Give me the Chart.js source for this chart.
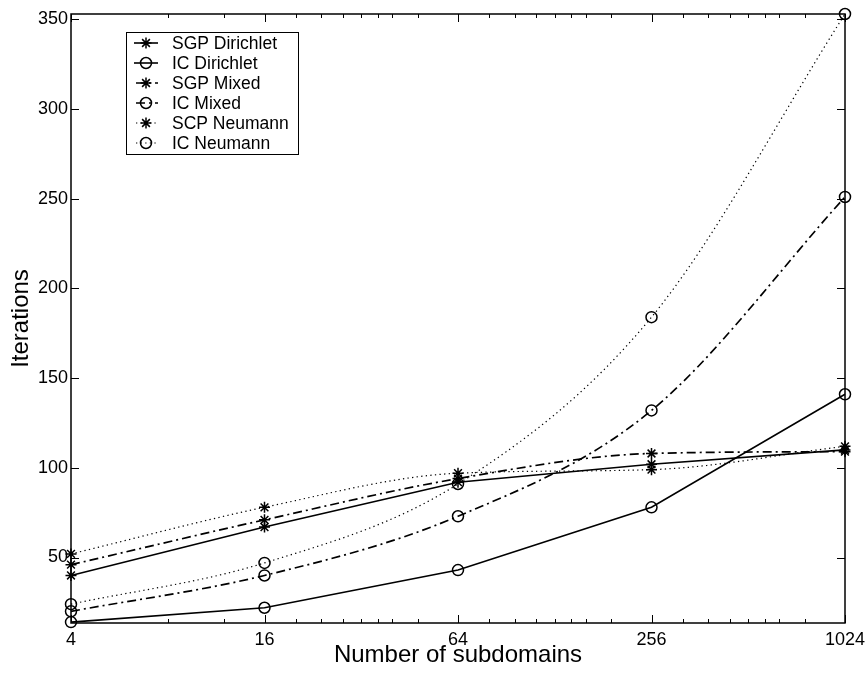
<!DOCTYPE html>
<html><head><meta charset="utf-8">
<script src="https://cdn.jsdelivr.net/npm/chart.js@4/dist/chart.umd.min.js"></script>
<style>html,body{margin:0;padding:0;background:#fff}#wrap{width:866px;height:675px}</style>
</head><body><div id="wrap"><canvas id="c" width="866" height="675"></canvas></div>
<script>
const subdomains = [4, 16, 64, 256, 1024];
const sgpDirichlet = [40, 67, 92, 102, 110];
const icDirichlet = [14, 22, 43, 78, 141];
const sgpMixed = [46, 71, 94, 108, 109];
const icMixed = [20, 40, 73, 132, 251];
const scpNeumann = [52, 78, 97, 99, 112];
const icNeumann = [24, 47, 91, 184, 353];
const seriesLabels = ['SGP Dirichlet', 'IC Dirichlet', 'SGP Mixed', 'IC Mixed', 'SCP Neumann', 'IC Neumann'];
const xMajorTicks = [4, 16, 64, 256, 1024];
const xMinorTicks = [8, 12, 20, 24, 28, 32, 36, 40, 48, 80, 96, 112, 128, 144, 160, 192, 320, 384, 448, 512, 576, 640, 768];
const yTicks = [50, 100, 150, 200, 250, 300, 350];

const FONT = '"Liberation Sans", Arial, Helvetica, sans-serif';
const SOLID = [], DASHDOT = [9, 4, 2, 4], DOTTED = [1.3, 3.3];

function pts(vals) { return subdomains.map((x, i) => ({ x: x, y: vals[i] })); }
function ds(label, vals, dash, style, width, curved) {
  return {
    label: label, data: pts(vals), borderColor: '#000', borderWidth: width, borderDash: dash,
    pointStyle: style, pointRadius: 5.5, pointBorderWidth: 1.5,
    pointBorderColor: '#000', pointBackgroundColor: 'rgba(0,0,0,0)', fill: false,
    tension: 0, cubicInterpolationMode: curved ? 'monotone' : 'default', clip: false
  };
}

const frameTicks = {
  id: 'frameTicks',
  beforeDatasetsDraw(chart) {
    const ctx = chart.ctx, a = chart.chartArea, xs = chart.scales.x, ys = chart.scales.y;
    ctx.save();
    ctx.strokeStyle = '#000'; ctx.lineWidth = 1.5;
    ctx.strokeRect(a.left, a.top, a.right - a.left, a.bottom - a.top);
    ctx.lineWidth = 1;
    ctx.beginPath();
    const xt = (v, len) => { const p = Math.round(xs.getPixelForValue(v)) + 0.5;
      ctx.moveTo(p, a.bottom); ctx.lineTo(p, a.bottom - len); ctx.moveTo(p, a.top); ctx.lineTo(p, a.top + len); };
    xMajorTicks.forEach(v => xt(v, 8));
    xMinorTicks.forEach(v => xt(v, 4));
    yTicks.forEach(v => { const p = Math.round(ys.getPixelForValue(v)) + 0.5;
      ctx.moveTo(a.left, p); ctx.lineTo(a.left + 8, p); ctx.moveTo(a.right, p); ctx.lineTo(a.right - 8, p); });
    ctx.stroke();
    ctx.restore();
  }
};

const legendBox = {
  id: 'legendBox',
  afterDatasetsDraw(chart) {
    const ctx = chart.ctx, a = chart.chartArea;
    const x0 = a.left + 55, y0 = a.top + 18, w = 172, h = 122, rowH = 20;
    ctx.save();
    ctx.fillStyle = '#fff'; ctx.fillRect(x0, y0, w, h);
    ctx.strokeStyle = '#000'; ctx.lineWidth = 1; ctx.strokeRect(x0 + 0.5, y0 + 0.5, w, h);
    chart.data.datasets.forEach((d, i) => {
      const cy = y0 + 11 + i * rowH;
      ctx.strokeStyle = '#000';
      ctx.setLineDash(d.borderDash || []); ctx.lineWidth = d.borderWidth;
      ctx.lineDashOffset = d.borderDash && d.borderDash.length ? -2 : 0;
      ctx.beginPath(); ctx.moveTo(x0 + 8, cy); ctx.lineTo(x0 + 32, cy); ctx.stroke();
      ctx.setLineDash([]);
      ctx.lineWidth = d.pointBorderWidth;
      ctx.fillStyle = 'rgba(0,0,0,0)';
      Chart.helpers.drawPoint(ctx, { pointStyle: d.pointStyle, radius: d.pointRadius, rotation: 0, borderWidth: d.pointBorderWidth }, x0 + 20, cy);
      ctx.fillStyle = '#000'; ctx.font = '17.5px ' + FONT; ctx.textBaseline = 'middle'; ctx.textAlign = 'left';
      ctx.fillText(d.label, x0 + 46, cy + 1);
    });
    ctx.restore();
  }
};

new Chart(document.getElementById('c'), {
  type: 'line',
  data: {
    datasets: [
      ds(seriesLabels[0], sgpDirichlet, SOLID, 'star', 1.6, false),
      ds(seriesLabels[1], icDirichlet, SOLID, 'circle', 1.6, false),
      ds(seriesLabels[2], sgpMixed, DASHDOT, 'star', 1.7, true),
      ds(seriesLabels[3], icMixed, DASHDOT, 'circle', 1.7, true),
      ds(seriesLabels[4], scpNeumann, DOTTED, 'star', 1.2, true),
      ds(seriesLabels[5], icNeumann, DOTTED, 'circle', 1.2, true)
    ]
  },
  options: {
    responsive: false, animation: false, devicePixelRatio: 1,
    layout: { padding: { top: 14, right: 21, left: 0, bottom: 0 } },
    plugins: { legend: { display: false }, tooltip: { enabled: false } },
    scales: {
      x: {
        type: 'logarithmic', min: 4, max: 1024,
        afterBuildTicks: s => { s.ticks = xMajorTicks.map(v => ({ value: v })); },
        afterFit: s => { s.height = 52; s.paddingLeft = 0; s.paddingRight = 0; },
        ticks: { callback: v => String(v), color: '#000', font: { family: FONT, size: 18 }, padding: 6, maxRotation: 0, autoSkip: false },
        grid: { display: false, drawTicks: false, tickLength: 0 },
        border: { display: false },
        title: { display: true, text: 'Number of subdomains', color: '#000', font: { family: FONT, size: 24 }, padding: { top: 0, bottom: 5 } }
      },
      y: {
        type: 'linear', min: 13.5, max: 353,
        afterBuildTicks: s => { s.ticks = yTicks.map(v => ({ value: v })); },
        afterFit: s => { s.width = 71; s.paddingTop = 0; s.paddingBottom = 0; },
        ticks: { color: '#000', font: { family: FONT, size: 18 }, padding: 3 },
        grid: { display: false, drawTicks: false, tickLength: 0 },
        border: { display: false },
        title: { display: true, text: 'Iterations', color: '#000', font: { family: FONT, size: 24 }, padding: { top: 7, bottom: 0 } }
      }
    }
  },
  plugins: [frameTicks, legendBox]
});
</script>
</body></html>
